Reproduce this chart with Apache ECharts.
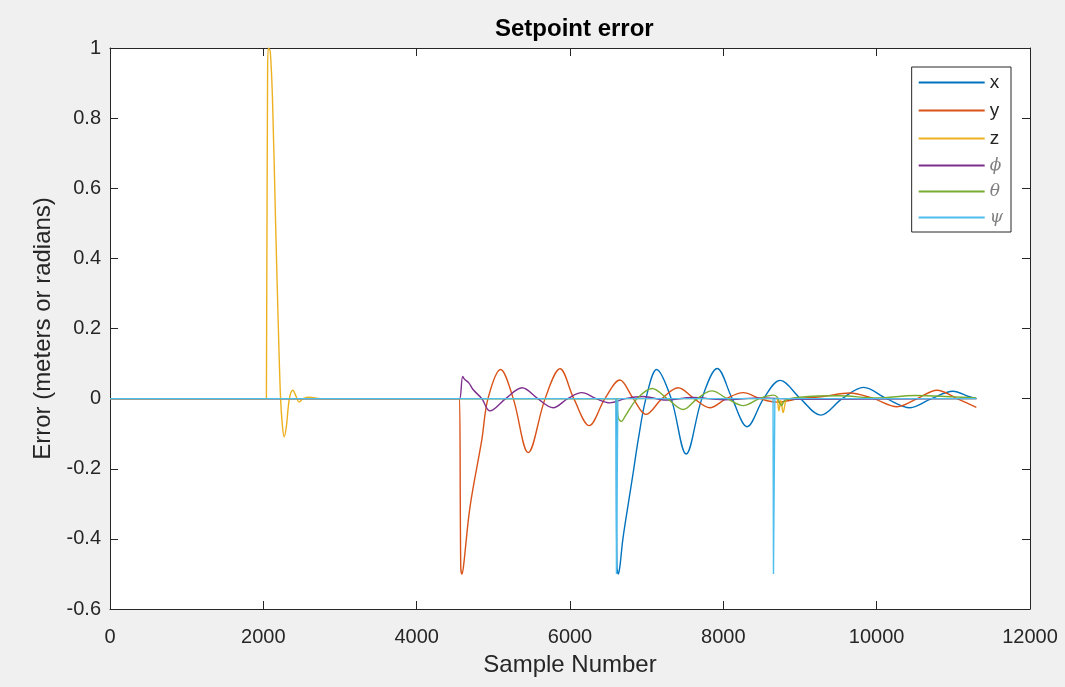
<!DOCTYPE html>
<html>
<head>
<meta charset="utf-8">
<title>Setpoint error</title>
<script src="https://cdn.jsdelivr.net/npm/echarts@6.0.0/dist/echarts.min.js"></script>
<style>
  html, body { margin: 0; padding: 0; background: #f0f0f0; }
  #chart { width: 1065px; height: 687px; }
</style>
</head>
<body>
<div id="chart"></div>
<script>
// values: [sample number, error]
var xVals = [[0,0],[6590,0],[6600,0],[6612,-0.48],[6630,-0.5],[6650,-0.48],[6690,-0.4],[6760,-0.3],[6825,-0.21],[6890,-0.117],[6990,0],
  [7130,0.083],[7320,0],[7515,-0.158],[7720,0],[7920,0.086],[8115,0],[8310,-0.08],[8525,0],[8740,0.052],[9005,0],[9270,-0.047],
  [9550,0],[9830,0.032],[10130,0],[10435,-0.026],[10715,0],[10995,0.021],[11200,0.006],[11300,0]];
var yVals = [[0,0],[4550,0],[4560,0],[4575,-0.48],[4590,-0.5],[4610,-0.48],[4695,-0.31],[4850,-0.117],[4930,0],[5095,0.083],
  [5260,0],[5455,-0.154],[5675,0],[5870,0.085],[6050,0],[6250,-0.077],[6455,0],[6650,0.053],[6825,0],[6990,-0.045],[7200,0],
  [7410,0.031],[7620,0],[7825,-0.026],[8040,0],[8260,0.017],[8480,0],[8700,-0.01],[9000,0],[9300,0.006],[9650,0.016],[9960,0],
  [10265,-0.023],[10530,0],[10785,0.024],[11050,0],[11300,-0.025]];
var zVals = [[0,0],[2040,0],[2048,0],[2055,0.9],[2065,1.0],[2090,0.99],[2120,0.85],[2160,0.5],[2200,0.17],[2225,0],[2250,-0.08],
  [2272,-0.109],[2300,-0.08],[2340,0],[2385,0.024],[2430,0.005],[2465,-0.01],[2520,0],[2600,0.004],[2750,0],[8690,0],[8700,0],
  [8725,-0.035],[8750,-0.005],[8780,-0.04],[8810,-0.01],[8830,0],[11300,0]];
var phiVals = [[0,0],[4555,0],[4565,0],[4600,0.063],[4625,0.055],[4680,0.045],[4735,0.026],[4850,0],[4955,-0.035],[5160,0],
  [5375,0.031],[5580,0],[5780,-0.026],[5970,0],[6155,0.017],[6340,0],[6520,-0.012],[6720,0],[6950,0.006],[7250,-0.004],
  [7600,0.003],[8000,-0.003],[8500,0.002],[9000,-0.002],[11300,0]];
var thetaVals = [[0,0],[6595,0],[6605,0],[6630,-0.055],[6670,-0.065],[6720,-0.05],[6875,0],[7070,0.029],[7270,0],[7475,-0.031],
  [7660,0],[7850,0.022],[8050,0],[8260,-0.02],[8470,0],[8650,0.01],[8700,0.005],[8760,-0.02],[8800,-0.005],[9000,0.004],
  [9500,0.008],[10000,0.002],[10500,0.009],[11000,0.005],[11300,0.002]];
var psiVals = [[0,0],[6600,0],[6606,-0.5],[6618,-0.5],[6624,0],[8648,0],[8654,-0.5],[8666,-0.5],[8672,0],[11300,0]];

var seriesNames = ['x', 'y', 'z', 'ϕ', 'θ', 'ψ'];
var seriesData = [xVals, yVals, zVals, phiVals, thetaVals, psiVals];
var colors = ['#0072BD', '#D95319', '#EDB120', '#7E2F8E', '#77AC30', '#4DBEEE'];
var greek = ['ϕ', 'θ', 'ψ'];

var font = '"Liberation Sans", Arial, Helvetica, sans-serif';
var axisColor = '#262626';

var dom = document.getElementById('chart');
var myChart = echarts.init(dom, null, { width: 1065, height: 687, renderer: 'canvas' });

var series = [];
for (var i = 0; i < seriesNames.length; i++) {
  series.push({
    name: seriesNames[i],
    type: 'line',
    data: seriesData[i],
    symbol: 'none',
    showSymbol: false,
    smooth: seriesNames[i] === 'ψ' ? false : 0.35,
    lineStyle: { width: 1.4, color: colors[i] },
    itemStyle: { color: colors[i] },
    emphasis: { disabled: true }
  });
}

function axisBase(pos, showLabel) {
  return {
    type: 'value',
    position: pos,
    axisLine: { show: true, onZero: false, lineStyle: { color: axisColor, width: 1 } },
    axisTick: { show: true, inside: true, length: 8, lineStyle: { color: axisColor } },
    splitLine: { show: false },
    axisLabel: { show: showLabel, color: axisColor, fontFamily: font, fontSize: 20 }
  };
}

var xBottom = axisBase('bottom', true);
xBottom.min = 0; xBottom.max = 12000; xBottom.interval = 2000;
xBottom.axisLabel.margin = 18;
xBottom.axisLabel.formatter = function (v) { return String(v); };
xBottom.name = 'Sample Number';
xBottom.nameLocation = 'middle';
xBottom.nameGap = 44;
xBottom.nameTextStyle = { color: axisColor, fontFamily: font, fontSize: 24 };

var xTop = axisBase('top', false);
xTop.min = 0; xTop.max = 12000; xTop.interval = 2000;

var yLeft = axisBase('left', true);
yLeft.min = -0.6; yLeft.max = 1; yLeft.interval = 0.2;
yLeft.axisLabel.margin = 9;
yLeft.axisLabel.formatter = function (v) { return String(parseFloat(v.toFixed(1))); };
yLeft.name = 'Error (meters or radians)';
yLeft.nameLocation = 'middle';
yLeft.nameGap = 54;
yLeft.nameTextStyle = { color: axisColor, fontFamily: font, fontSize: 24 };

var yRight = axisBase('right', false);
yRight.min = -0.6; yRight.max = 1; yRight.interval = 0.2;

var option = {
  backgroundColor: '#f0f0f0',
  animation: false,
  title: {
    text: 'Setpoint error',
    left: 490,
    top: 12,
    textStyle: { color: '#000', fontFamily: font, fontWeight: 'bold', fontSize: 24 }
  },
  grid: {
    left: 110, right: 35, top: 48, bottom: 78,
    show: true, backgroundColor: '#ffffff', borderWidth: 0
  },
  legend: {
    data: seriesNames,
    orient: 'vertical',
    right: 54,
    top: 67,
    padding: [6, 8, 6, 7],
    icon: 'rect',
    itemWidth: 66,
    itemHeight: 2,
    itemGap: 9,
    backgroundColor: '#ffffff',
    borderColor: axisColor,
    borderWidth: 1,
    borderRadius: 0,
    selectedMode: false,
    formatter: function (name) {
      return greek.indexOf(name) >= 0 ? '{g|' + name + '}' : name;
    },
    textStyle: {
      color: axisColor, fontFamily: font, fontSize: 19, lineHeight: 14,
      rich: { g: { fontFamily: '"DejaVu Serif", serif', fontStyle: 'italic', color: '#808080', fontSize: 17, lineHeight: 14 } }
    }
  },
  xAxis: [xBottom, xTop],
  yAxis: [yLeft, yRight],
  series: series
};

myChart.setOption(option);
</script>
</body>
</html>
